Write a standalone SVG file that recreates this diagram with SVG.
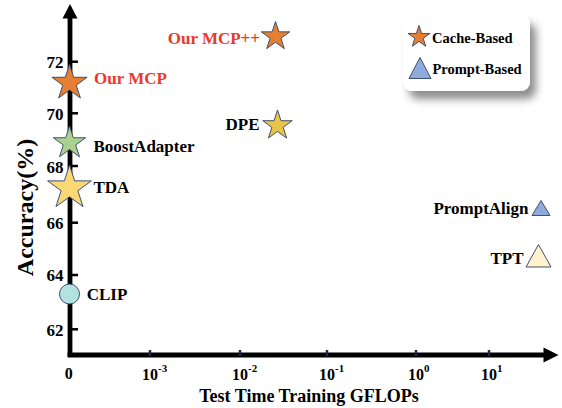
<svg xmlns="http://www.w3.org/2000/svg" width="562" height="408" viewBox="0 0 562 408">
  <defs>
    <filter id="shadow" x="-20%" y="-20%" width="150%" height="160%">
      <feDropShadow dx="6" dy="8" stdDeviation="4" flood-color="#000" flood-opacity="0.45"/>
    </filter>
  </defs>
  <style>
    text { font-family: "Liberation Serif", "Times New Roman", serif; font-weight: bold; fill: #000; }
    .lbl { font-size: 17px; }
    .red { fill: #E8392C; }
    .tick { font-size: 17px; text-anchor: end; }
    .xt { font-size: 16px; }
    .sup { font-size: 11px; }
    .leg { font-size: 14.5px; }
    .mk { stroke: #3F5070; stroke-width: 1; stroke-linejoin: miter; }
    .orange { fill: #E67E33; }
    .gold { fill: #E9C34A; }
    .green { fill: #AAD18E; }
    .yellow { fill: #FAD873; }
    .cyan { fill: #B3E3E0; }
    .blue { fill: #8FAADC; }
    .cream { fill: #FFF2CC; }
    .ytk { stroke: #000; stroke-width: 2.5; }
    .xtk { stroke: #1F2A44; stroke-width: 2.5; }
  </style>
  <rect width="562" height="408" fill="#fff"/>

  <g id="axes">
    <line x1="70" y1="357" x2="70" y2="17" stroke="#000" stroke-width="4.8"/>
    <polygon points="70,4 77.5,18.5 62.5,18.5" fill="#000"/>
    <line x1="67.6" y1="355" x2="545" y2="355" stroke="#000" stroke-width="4.8"/>
    <polygon points="558.5,355 543.5,347.5 543.5,362.5" fill="#000"/>
    <line class="ytk" x1="72" y1="61.7" x2="78" y2="61.7"/>
    <line class="ytk" x1="72" y1="113.3" x2="78" y2="113.3"/>
    <line class="ytk" x1="72" y1="166" x2="78" y2="166"/>
    <line class="ytk" x1="72" y1="222.7" x2="78" y2="222.7"/>
    <line class="ytk" x1="72" y1="275" x2="78" y2="275"/>
    <line class="ytk" x1="72" y1="329.3" x2="78" y2="329.3"/>
    <text class="tick" x="63.5" y="68.3">72</text>
    <text class="tick" x="63.5" y="120">70</text>
    <text class="tick" x="63.5" y="172.5">68</text>
    <text class="tick" x="63.5" y="229.3">66</text>
    <text class="tick" x="63.5" y="281">64</text>
    <text class="tick" x="63.5" y="335.5">62</text>
    <line class="xtk" x1="150" y1="350" x2="150" y2="356"/>
    <line class="xtk" x1="240" y1="350" x2="240" y2="356"/>
    <line class="xtk" x1="327" y1="350" x2="327" y2="356"/>
    <line class="xtk" x1="416" y1="350" x2="416" y2="356"/>
    <line class="xtk" x1="489" y1="350" x2="489" y2="356"/>
    <text class="xt" x="68.7" y="379" text-anchor="middle">0</text>
    <text class="xt" x="142" y="380">10<tspan class="sup" dy="-8">-3</tspan></text>
    <text class="xt" x="232" y="380">10<tspan class="sup" dy="-8">-2</tspan></text>
    <text class="xt" x="319" y="380">10<tspan class="sup" dy="-8">-1</tspan></text>
    <text class="xt" x="408" y="380">10<tspan class="sup" dy="-8">0</tspan></text>
    <text class="xt" x="481" y="380">10<tspan class="sup" dy="-8">1</tspan></text>
    <text x="309" y="401.7" font-size="18" text-anchor="middle">Test Time Training GFLOPs</text>
    <text transform="translate(33,207.5) rotate(-90)" font-size="24" text-anchor="middle">Accuracy(%)</text>
  </g>

  <g id="connectors"></g>

  <g id="clip">
    <circle class="mk cyan" cx="69.5" cy="294" r="10"/>
    <text class="lbl" x="86.7" y="299.5">CLIP</text>
  </g>
  <g id="tda">
    <polygon class="mk yellow" points="69.5,165 74.66,180.89 91.38,180.89 77.86,190.71 83.02,206.61 69.5,196.79 55.98,206.61 61.14,190.71 47.62,180.89 64.34,180.89"/>
    <text class="lbl" x="93.5" y="193">TDA</text>
  </g>
  <g id="boostadapter">
    <polygon class="mk green" points="69.5,126 73.32,137.75 85.67,137.75 75.68,145.01 79.49,156.75 69.5,149.49 59.51,156.75 63.32,145.01 53.33,137.75 65.68,137.75"/>
    <text class="lbl" x="93.5" y="151.7">BoostAdapter</text>
  </g>
  <g id="our-mcp">
    <polygon class="mk orange" points="69.5,64.5 73.65,77.28 87.1,77.28 76.22,85.18 80.37,97.97 69.5,90.07 58.63,97.97 62.78,85.18 51.9,77.28 65.35,77.28"/>
    <text class="lbl red" x="94" y="83.5">Our MCP</text>
  </g>
  <g id="our-mcp-pp">
    <polygon class="mk orange" points="275.5,21.5 278.87,31.87 289.77,31.87 280.95,38.27 284.32,48.64 275.5,42.23 266.68,48.64 270.05,38.27 261.23,31.87 272.13,31.87"/>
    <text class="lbl red" x="260" y="43.5" text-anchor="end">Our MCP++</text>
  </g>
  <g id="dpe">
    <polygon class="mk gold" points="277.5,110 280.98,120.71 292.24,120.71 283.13,127.33 286.61,138.04 277.5,131.42 268.39,138.04 271.87,127.33 262.76,120.71 274.02,120.71"/>
    <text class="lbl" x="259.5" y="129.5" text-anchor="end">DPE</text>
  </g>
  <g id="promptalign">
    <polygon class="mk blue" points="541,200.5 550,215.5 532,215.5"/>
    <text class="lbl" x="528.5" y="213.5" text-anchor="end">PromptAlign</text>
  </g>
  <g id="tpt">
    <polygon class="mk cream" points="538.5,244.5 551,267 526,267"/>
    <text class="lbl" x="523.5" y="263.5" text-anchor="end">TPT</text>
  </g>

  <g id="legend">
    <rect x="403" y="15" width="127" height="76" rx="9" fill="#fff" filter="url(#shadow)"/>
    <polygon class="mk orange" points="419,25.5 421.58,33.45 429.94,33.45 423.18,38.36 425.76,46.3 419,41.39 412.24,46.3 414.82,38.36 408.06,33.45 416.42,33.45"/>
    <text class="leg" x="432" y="42.5">Cache-Based</text>
    <polygon class="mk blue" points="420,57.5 431,78.5 409,78.5"/>
    <text class="leg" x="432.5" y="73.5">Prompt-Based</text>
  </g>
</svg>
